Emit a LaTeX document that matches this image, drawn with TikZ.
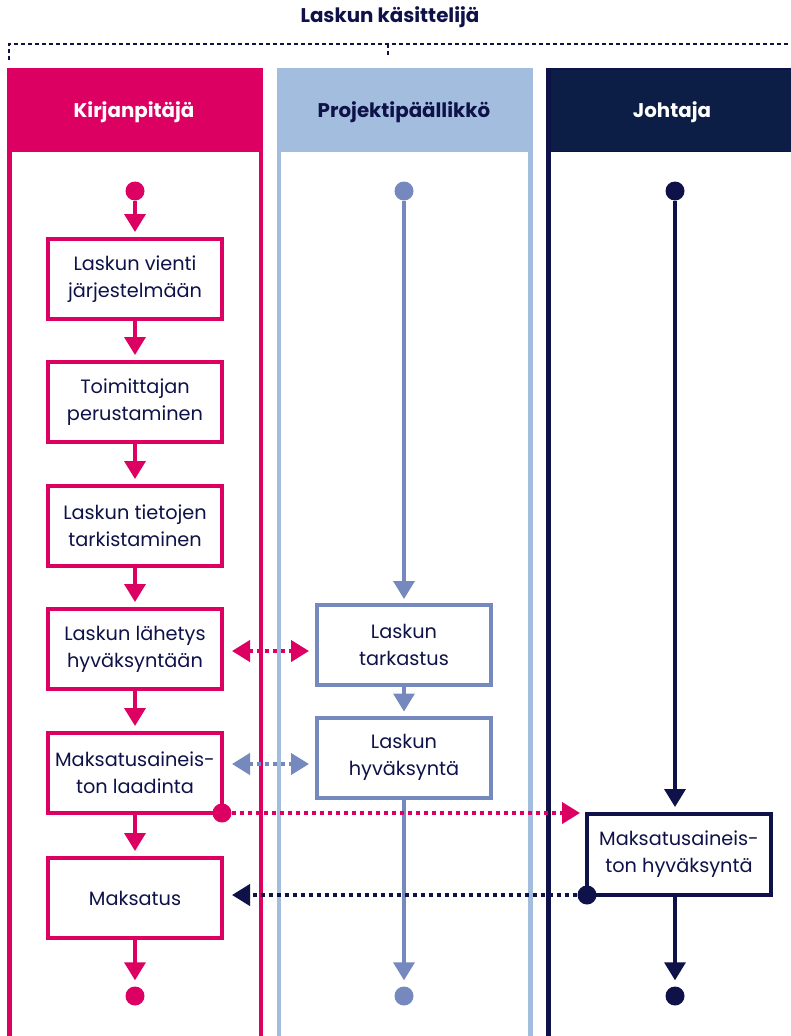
\documentclass[tikz,border=0pt]{standalone}
\usepackage{fontspec}
\setmainfont{Poppins}
\usetikzlibrary{arrows.meta}
\definecolor{fuksia}{RGB}{219,0,98}
\definecolor{vaalea}{RGB}{163,189,223}
\definecolor{sini}{RGB}{117,137,191}
\definecolor{tumma}{RGB}{14,18,72}
\definecolor{yo}{RGB}{12,30,70}

\begin{document}
\begin{tikzpicture}[x=1pt,y=-1pt,
    font=\fontsize{19.3}{27}\selectfont,
    laatikko/.style={draw,line width=4pt,fill=white,minimum width=174pt,minimum height=80pt,
                     align=center,text=tumma,outer sep=0pt,inner sep=2pt},
    piste/.style={circle,inner sep=0pt,minimum size=19pt},
    nuoli/.style={line width=3.5pt,-{Triangle[width=21pt,length=18pt]}},
    kaksi/.style={line width=4pt,dash pattern=on 4pt off 4pt,
                  {Triangle[width=21pt,length=18pt]}-{Triangle[width=21pt,length=18pt]}},
    pisteviiva/.style={line width=4pt,dash pattern=on 4pt off 4pt,-{Triangle[width=21pt,length=18pt]}},
    otsikko/.style={font=\fontsize{19.8}{24}\selectfont\bfseries}]

  \useasboundingbox[fill=white] (0,0) rectangle (791,1036);

  % otsikko ja katkoviivasulje
  \node[otsikko,text=tumma] (kasittelija) at (390,17) {Laskun käsittelijä};
  \draw[tumma,line width=2pt,dash pattern=on 4pt off 3pt] (9,60) -- (9,44) -- (795,44);
  \draw[tumma,line width=2pt,dash pattern=on 4pt off 3pt] (388,44) -- (388,57);

  % kaistat
  \fill[fuksia] (7,68) rectangle (263,152);
  \draw[fuksia,line width=4.5pt] (9.25,68) -- (9.25,1040);
  \draw[fuksia,line width=4.5pt] (260.75,68) -- (260.75,1040);
  \fill[vaalea] (276.5,68) rectangle (532.5,152);
  \draw[vaalea,line width=4.5pt] (278.75,68) -- (278.75,1040);
  \draw[vaalea,line width=4.5pt] (530.25,68) -- (530.25,1040);
  \fill[yo] (546,68) rectangle (795,152);
  \draw[tumma,line width=1.5pt] (546.75,68.75) -- (795,68.75);
  \draw[tumma,line width=1.5pt] (546.75,151.25) -- (795,151.25);
  \draw[tumma,line width=4.5pt] (548.25,68) -- (548.25,1040);

  \node[otsikko,text=white] (kirjanpitaja) at (134,112) {Kirjanpitäjä};
  \node[otsikko,text=tumma] (projektipaallikko) at (404,112) {Projektipäällikkö};
  \node[otsikko,text=white] (johtaja) at (672,112) {Johtaja};

  % kirjanpitäjä
  \node[piste,fill=fuksia] (alku1) at (135,191) {};
  \node[laatikko,draw=fuksia] (vienti)    at (135,279) {Laskun vienti\\järjestelmään};
  \node[laatikko,draw=fuksia] (perustus)  at (135,402) {Toimittajan\\perustaminen};
  \node[laatikko,draw=fuksia] (tarkistus) at (135,526) {Laskun tietojen\\tarkistaminen};
  \node[laatikko,draw=fuksia] (lahetys)   at (135,649) {Laskun lähetys\\hyväksyntään};
  \node[laatikko,draw=fuksia] (laadinta)  at (135,773) {Maksatusaineis-\\ton laadinta};
  \node[laatikko,draw=fuksia] (maksatus)  at (135,898) {Maksatus};
  \node[piste,fill=fuksia] (loppu1) at (135,996) {};

  % projektipäällikkö
  \node[piste,fill=sini] (alku2) at (404,191) {};
  \node[laatikko,draw=sini] (tarkastus)  at (404,645)   {Laskun\\tarkastus};
  \node[laatikko,draw=sini] (hyvaksynta) at (404,757.5) {Laskun\\hyväksyntä};
  \node[piste,fill=sini] (loppu2) at (404,996) {};

  % johtaja
  \node[piste,fill=tumma] (alku3) at (675,191) {};
  \node[laatikko,draw=tumma,minimum width=184pt,minimum height=81pt] (mhyv) at (679,854.5)
       {Maksatusaineis-\\ton hyväksyntä};
  \node[piste,fill=tumma] (loppu3) at (675,996) {};

  \node[piste,fill=fuksia] (lahto1) at (laadinta.south east) {};
  \node[piste,fill=tumma]  (lahto2) at (mhyv.south west) {};
  \coordinate (k2) at ([yshift=-6.5pt]hyvaksynta.west);

  % nuolet
  \draw[nuoli,fuksia,shorten >=7pt] (alku1) -- (vienti);
  \draw[nuoli,fuksia,shorten >=7pt] (vienti) -- (perustus);
  \draw[nuoli,fuksia,shorten >=7pt] (perustus) -- (tarkistus);
  \draw[nuoli,fuksia,shorten >=7pt] (tarkistus) -- (lahetys);
  \draw[nuoli,fuksia,shorten >=7pt] (lahetys) -- (laadinta);
  \draw[nuoli,fuksia,shorten >=7pt] (laadinta) -- (maksatus);
  \draw[nuoli,fuksia,shorten >=6pt] (maksatus) -- (loppu1);

  \draw[nuoli,sini,shorten >=6pt] (alku2) -- (tarkastus);
  \draw[nuoli,sini,shorten >=6pt] (tarkastus) -- (hyvaksynta);
  \draw[nuoli,sini,shorten >=6pt] (hyvaksynta) -- (loppu2);

  \draw[nuoli,tumma,shorten >=7pt] (alku3) -- (alku3 |- mhyv.north);
  \draw[nuoli,tumma,shorten >=6pt] (mhyv.south -| alku3) -- (loppu3);

  % pisteviivat
  \draw[kaksi,fuksia,shorten <=10pt,shorten >=8pt] ([yshift=-2pt]lahetys.east) -- ([yshift=-2pt]lahetys.east -| tarkastus.west);
  \draw[kaksi,sini,shorten <=10pt,shorten >=8pt] (laadinta.east |- k2) -- (k2);
  \draw[pisteviiva,fuksia,shorten >=7pt] (lahto1) -- (lahto1 -| mhyv.west);
  \draw[pisteviiva,tumma,shorten >=10pt] (lahto2) -- (lahto2 -| maksatus.east);

\end{tikzpicture}
\end{document}
